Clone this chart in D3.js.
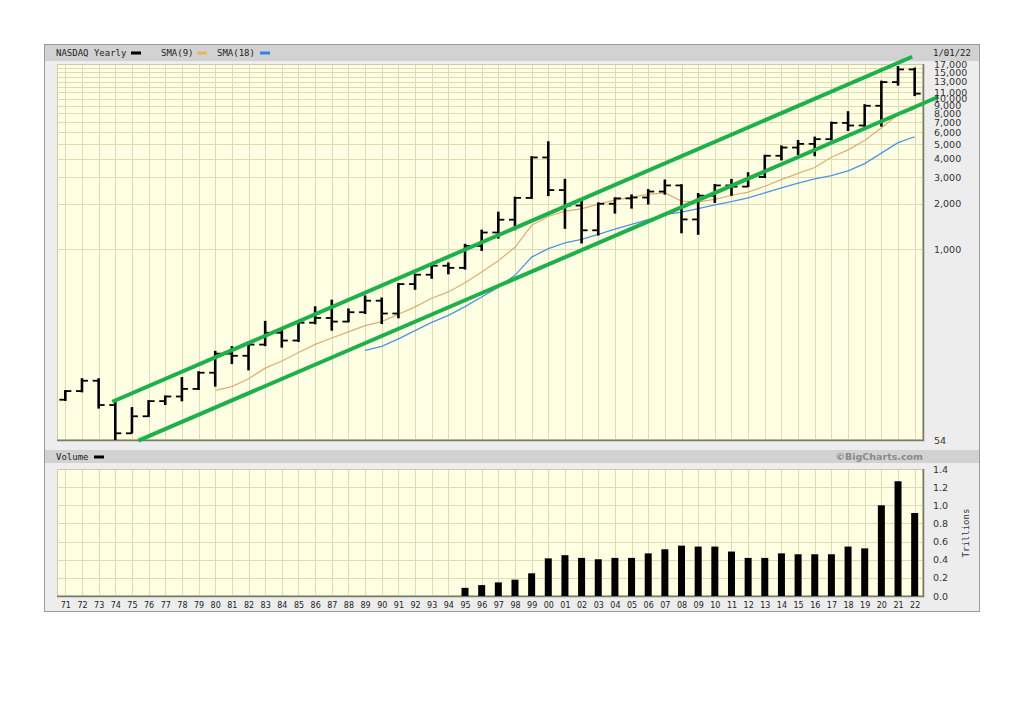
<!DOCTYPE html>
<html><head><meta charset="utf-8">
<script src="https://cdn.jsdelivr.net/npm/d3@7/dist/d3.min.js"></script>
<style>
body{margin:0;background:#fff;}
svg{display:block;}
</style></head><body>
<svg id="c" width="1024" height="724"></svg>
<script>
// ---------- DATA ----------
const years = [1971,1972,1973,1974,1975,1976,1977,1978,1979,1980,1981,1982,1983,1984,1985,1986,1987,1988,1989,1990,
  1991,1992,1993,1994,1995,1996,1997,1998,1999,2000,2001,2002,2003,2004,2005,2006,2007,2008,2009,2010,
  2011,2012,2013,2014,2015,2016,2017,2018,2019,2020,2021,2022];
const yearLabels = ["71","72","73","74","75","76","77","78","79","80","81","82","83","84","85","86","87","88","89","90",
  "91","92","93","94","95","96","97","98","99","00","01","02","03","04","05","06","07","08","09","10",
  "11","12","13","14","15","16","17","18","19","20","21","22"];
const opens = [100,114.12,133.73,92.19,59.82,77.62,97.88,105.05,117.98,151.14,202.34,195.84,232.41,278.60,247.35,324.93,349.33,330.47,381.38,454.82,
  373.84,586.34,676.95,776.80,751.96,1052.13,1291.03,1570.35,2192.69,4069.31,2470.52,1950.40,1335.51,2003.37,2175.44,2205.32,2415.29,2652.28,1577.03,2269.15,
  2652.87,2605.15,3019.51,4176.59,4736.05,5007.41,5383.12,6903.39,6635.28,8972.60,12888.28,15644.97];
const highs = [114.12,136.84,136.84,96.53,88.00,97.88,105.05,139.25,152.29,208.15,223.47,240.70,328.91,287.90,325.16,411.16,455.26,397.54,485.73,470.30,
  586.35,676.95,787.42,803.93,1069.79,1328.45,1748.62,2200.63,4090.61,5132.52,2892.36,2098.88,2015.23,2178.34,2278.16,2470.95,2861.51,2661.50,2326.28,2671.48,
  2887.75,3196.93,4177.73,4814.95,5231.94,5512.37,6939.34,8133.30,9052.00,12973.33,16212.23,15852.14];
const lows = [99.68,113.65,88.67,54.87,60.70,78.06,93.66,99.09,117.84,124.09,175.03,159.14,230.59,225.30,245.80,322.14,291.88,331.97,376.87,322.93,
  352.85,545.85,645.87,691.15,743.58,988.57,1194.00,1357.09,2193.17,2288.16,1387.06,1108.49,1253.22,1750.82,1889.83,2012.78,2340.68,1295.48,1265.52,2061.14,
  2298.89,2627.23,3019.51,3946.03,4292.14,4209.76,5357.18,6190.17,6457.13,6631.42,12397.05,10565.14];
const closes = [114.12,133.73,92.19,59.82,77.62,97.88,105.05,117.98,151.14,202.34,195.84,232.41,278.60,247.35,324.93,349.33,330.47,381.38,454.82,373.84,
  586.34,676.95,776.80,751.96,1052.13,1291.03,1570.35,2192.69,4069.31,2470.52,1950.40,1335.51,2003.37,2175.44,2205.32,2415.29,2652.28,1577.03,2269.15,2652.87,
  2605.15,3019.51,4176.59,4736.05,5007.41,5383.12,6903.39,6635.28,8972.60,12888.28,15644.97,10800];
const sma9 = [null,null,null,null,null,null,null,null,null,
  115.31,122.21,137.79,162.10,180.95,206.18,233.32,256.93,282.52,310.57,330.35,369.67,413.93,472.76,520.21,598.30,705.03,837.14,1030.23,1440.84,
  1650.19,1791.69,1853.77,1992.81,2117.62,2219.21,2313.09,2364.16,2087.24,2064.87,2142.92,2283.99,2396.89,2619.24,2900.44,3188.45,3491.88,4083.69,
  4568.82,5271.01,6413.58,7816.41,8552.34];
const sma18 = [null,null,null,null,null,null,null,null,null,null,null,null,null,null,null,null,null,null,
  212.94,226.28,253.73,288.02,326.86,363.20,415.81,480.98,559.83,670.40,885.59,1009.93,1102.81,1163.26,1256.51,1357.96,1462.12,1575.12,1697.20,
  1764.04,1857.53,1967.30,2068.88,2194.85,2368.43,2559.82,2750.77,2928.02,3085.47,3316.84,3706.96,4348.79,5106.65,5585.79];
const volYears = [1995,1996,1997,1998,1999,2000,2001,2002,2003,2004,2005,2006,2007,2008,2009,2010,2011,2012,2013,2014,2015,2016,2017,2018,2019,2020,2021,2022];
const volValues = [0.09,0.12,0.15,0.18,0.25,0.415,0.45,0.42,0.405,0.42,0.42,0.47,0.515,0.555,0.545,0.545,0.49,0.42,0.42,0.47,0.46,0.46,0.46,0.545,0.525,1.0,1.265,0.915];
const priceTicks = [17000,15000,13000,11000,10000,9000,8000,7000,6000,5000,4000,3000,2000,1000,54];
const priceGrid = [1000,2000,3000,4000,5000,6000,7000,8000,9000,10000,11000,12000,13000,14000,15000,16000,17000];
const volTicks = [0,0.2,0.4,0.6,0.8,1.0,1.2,1.4];
const trendUpper = [[1973.82, 97], [2021.85, 19000]];
const trendLower = [[1975.38, 53.5], [2023.43, 10300]];

// ---------- LAYOUT ----------
const svg = d3.select("#c");
const L = 57, R = 923, T1 = 64, B1 = 440, T2 = 469, B2 = 596;
const x = d3.scaleLinear().domain([1970.5, 2022.5]).range([L, R]);
const y = d3.scaleLog().domain([54, 17000]).range([B1, T1]);
const yv = d3.scaleLinear().domain([0, 1.4]).range([B2, T2]);

const gridCol = "#dedbb4", bgCol = "#ffffe3";

// panel
svg.append("rect").attr("x",44.5).attr("y",44.5).attr("width",935).attr("height",567)
  .attr("fill","#ededed").attr("stroke","#9a9a9a");
svg.append("rect").attr("x",45).attr("y",45).attr("width",934).attr("height",16).attr("fill","#d2d2d2");
svg.append("rect").attr("x",45).attr("y",450).attr("width",934).attr("height",13).attr("fill","#d2d2d2");

// plot backgrounds
svg.append("rect").attr("x",L).attr("y",T1).attr("width",R-L).attr("height",B1-T1).attr("fill",bgCol);
svg.append("rect").attr("x",L).attr("y",T2).attr("width",R-L).attr("height",B2-T2).attr("fill",bgCol);

// grids
const g1 = svg.append("g").attr("stroke",gridCol).attr("stroke-width",1);
g1.selectAll("line.v").data(years).enter().append("line")
  .attr("x1",d=>Math.round(x(d))+0.5).attr("x2",d=>Math.round(x(d))+0.5).attr("y1",T1).attr("y2",B1);
g1.selectAll("line.h").data(priceGrid).enter().append("line")
  .attr("x1",L).attr("x2",R).attr("y1",d=>Math.round(y(d))+0.5).attr("y2",d=>Math.round(y(d))+0.5);
const g2 = svg.append("g").attr("stroke",gridCol).attr("stroke-width",1);
g2.selectAll("line.v").data(years).enter().append("line")
  .attr("x1",d=>Math.round(x(d))+0.5).attr("x2",d=>Math.round(x(d))+0.5).attr("y1",T2).attr("y2",B2);
g2.selectAll("line.h").data(volTicks).enter().append("line")
  .attr("x1",L).attr("x2",R).attr("y1",d=>Math.round(yv(d))+0.5).attr("y2",d=>Math.round(yv(d))+0.5);

// plot borders
[[T1,B1],[T2,B2]].forEach(([t,b])=>{
  svg.append("rect").attr("x",L+0.5).attr("y",t+0.5).attr("width",R-L-1).attr("height",b-t-1)
    .attr("fill","none").attr("stroke","#cfcba2");
  svg.append("path").attr("d",`M${L},${b+0.5}H${R+0.5}V${t}`).attr("fill","none").attr("stroke","#7a7a6a").attr("stroke-width",1.5);
});

// SMA lines
const idx = years.map((d,i)=>i);
const line9 = d3.line().defined(i=>sma9[i]!==null).x(i=>x(years[i])).y(i=>y(sma9[i]));
const line18 = d3.line().defined(i=>sma18[i]!==null).x(i=>x(years[i])).y(i=>y(sma18[i]));
svg.append("path").attr("d",line9(idx)).attr("fill","none").attr("stroke","#dcae72").attr("stroke-width",1.2);
svg.append("path").attr("d",line18(idx)).attr("fill","none").attr("stroke","#4d94e4").attr("stroke-width",1.3);

// OHLC bars
const ob = svg.append("g").attr("stroke","#000");
idx.forEach(i=>{
  const cx = x(years[i]);
  ob.append("line").attr("x1",cx).attr("x2",cx).attr("y1",y(lows[i])+1).attr("y2",y(highs[i])-1).attr("stroke-width",2.6);
  ob.append("line").attr("x1",cx-6).attr("x2",cx).attr("y1",y(opens[i])).attr("y2",y(opens[i])).attr("stroke-width",1.8);
  ob.append("line").attr("x1",cx).attr("x2",cx+6).attr("y1",y(closes[i])).attr("y2",y(closes[i])).attr("stroke-width",1.8);
});

// trend lines
[trendUpper, trendLower].forEach(t=>{
  svg.append("line").attr("x1",x(t[0][0])).attr("y1",y(t[0][1])).attr("x2",x(t[1][0])).attr("y2",y(t[1][1]))
    .attr("stroke","#1fb04c").attr("stroke-width",4);
});

// volume bars
svg.append("g").selectAll("rect").data(volYears).enter().append("rect")
  .attr("x",d=>x(d)-3.5).attr("width",7)
  .attr("y",(d,i)=>yv(volValues[i])).attr("height",(d,i)=>B2-yv(volValues[i]))
  .attr("fill","#000");

// axes
const ay = svg.append("g").attr("transform",`translate(${R},0)`)
  .call(d3.axisRight(y).tickValues(priceTicks).tickFormat(d3.format(",")).tickSize(0).tickPadding(11));
ay.select(".domain").remove();
ay.selectAll("text").attr("font-family","DejaVu Sans, Verdana, sans-serif").attr("font-size","9.5px").attr("fill","#333");

const av = svg.append("g").attr("transform",`translate(${R},0)`)
  .call(d3.axisRight(yv).tickValues(volTicks).tickFormat(d3.format(".1f")).tickSize(0).tickPadding(10));
av.select(".domain").remove();
av.selectAll("text").attr("font-family","DejaVu Sans, Verdana, sans-serif").attr("font-size","9.5px").attr("fill","#333");

const ax = svg.append("g").attr("transform",`translate(0,${B2})`)
  .call(d3.axisBottom(x).tickValues(years).tickFormat((d,i)=>yearLabels[i]).tickSize(0).tickPadding(6));
ax.select(".domain").remove();
ax.selectAll("text").attr("font-family","DejaVu Sans, Verdana, sans-serif").attr("font-size","8px").attr("fill","#222");

// legend / header texts
const mono = "DejaVu Sans Mono, Liberation Mono, monospace";
function txt(xp, yp, s, opts={}) {
  return svg.append("text").attr("x",xp).attr("y",yp).text(s)
    .attr("font-family",opts.ff||mono).attr("font-size",opts.fs||"9px")
    .attr("fill",opts.fill||"#222").attr("text-anchor",opts.anchor||"start")
    .attr("font-weight",opts.fw||"normal").attr("dominant-baseline","middle");
}
txt(56, 53, "NASDAQ Yearly");
svg.append("rect").attr("x",131).attr("y",51.5).attr("width",10).attr("height",3).attr("fill","#000");
txt(161, 53, "SMA(9)");
svg.append("rect").attr("x",197).attr("y",51.5).attr("width",10).attr("height",3).attr("fill","#e8b65e");
txt(217, 53, "SMA(18)");
svg.append("rect").attr("x",260).attr("y",51.5).attr("width",10).attr("height",3).attr("fill","#2f86e8");
txt(933, 53, "1/01/22");
txt(56, 457, "Volume");
svg.append("rect").attr("x",94).attr("y",455.5).attr("width",10).attr("height",3).attr("fill","#000");
txt(923, 457, "©BigCharts.com", {ff:"DejaVu Sans, Verdana, sans-serif", fs:"9.5px", fw:"bold", fill:"#8a8a8a", anchor:"end"});
svg.append("text").attr("transform","translate(966,533) rotate(-90)").text("Trillions")
  .attr("font-family",mono).attr("font-size","9px").attr("fill","#333")
  .attr("text-anchor","middle").attr("dominant-baseline","middle");
</script>
</body></html>
